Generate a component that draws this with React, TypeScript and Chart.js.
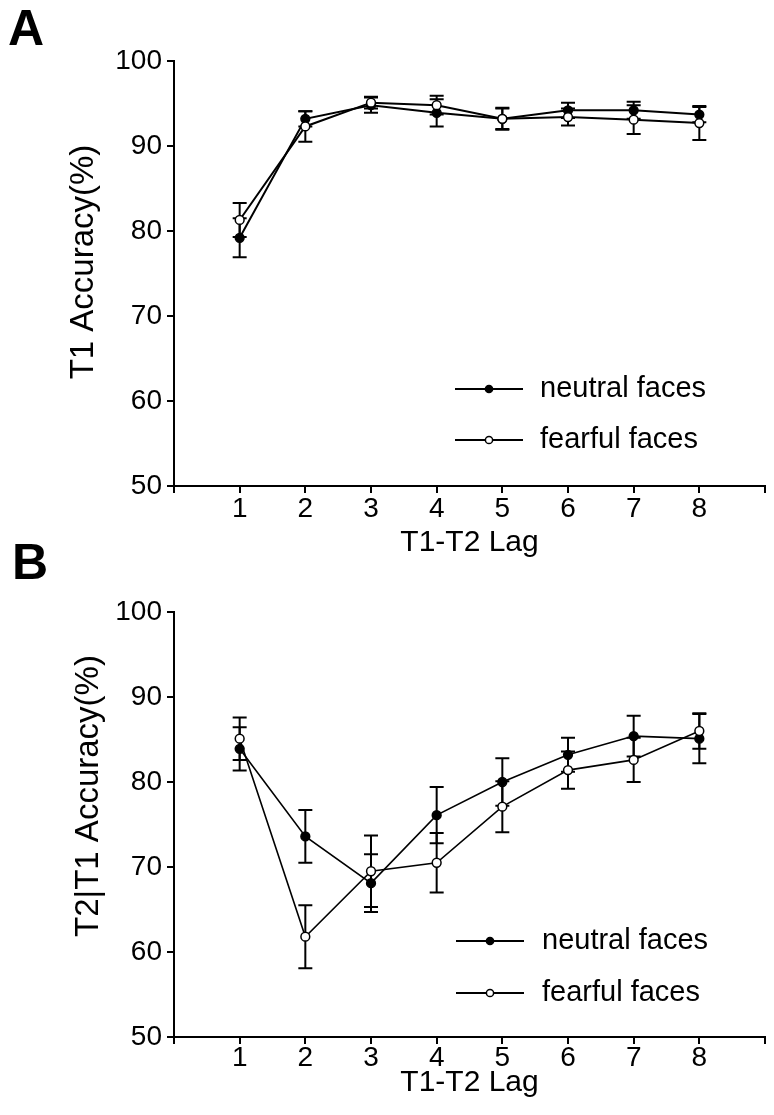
import React, { useEffect, useRef } from "react";
import { Chart, registerables } from "chart.js";

Chart.register(...registerables);

// ---------- data ----------
const lags = [1, 2, 3, 4, 5, 6, 7, 8];
const xTickValues = [0, 1, 2, 3, 4, 5, 6, 7, 8, 9];
const seriesLabels = ["neutral faces", "fearful faces"];
const xAxisTitle = "T1-T2 Lag";
const panelLetters = ["A", "B"];
const yAxisTitles = ["T1 Accuracy(%)", "T2|T1 Accuracy(%)"];

// Panel A – T1 accuracy
const t1Neutral = [79.2, 93.2, 94.8, 93.9, 93.2, 94.2, 94.2, 93.7];
const t1NeutralErr = [2.3, 0.9, 0.9, 1.6, 1.2, 0.9, 1.0, 0.9];
const t1Fearful = [81.3, 92.3, 95.1, 94.8, 93.2, 93.4, 93.1, 92.7];
const t1FearfulErr = [2.0, 1.8, 0.7, 1.1, 1.3, 1.0, 1.7, 2.0];

// Panel B – T2|T1 accuracy
const t2Neutral = [83.9, 73.6, 68.1, 76.1, 80.0, 83.2, 85.4, 85.1];
const t2NeutralErr = [2.55, 3.1, 3.4, 3.3, 2.8, 2.0, 2.4, 2.9];
const t2Fearful = [85.1, 61.8, 69.5, 70.5, 77.1, 81.4, 82.6, 86.0];
const t2FearfulErr = [2.5, 3.7, 4.2, 3.5, 3.0, 2.2, 2.6, 2.1];

const FONT = '"Liberation Sans", Arial, Helvetica, sans-serif';

type Spec = {
  letter: string;
  yTitle: string;
  neutral: number[];
  neutralErr: number[];
  fearful: number[];
  fearfulErr: number[];
  height: number;
  padTop: number;
  xScaleHeight: number;
  xTickPad: number;
  xTitlePad: number;
  yTitleX: number;
  yTitleY: number;
  letterX: number;
  letterY: number;
  legendLine: [number, number];
  legendMarkerX: number;
  legendTextX: number;
  legendRows: [number, number];
  lineWidth: number;
};

function buildConfig(spec: Spec): any {
  const gridStyle = {
    display: true,
    drawOnChartArea: false,
    drawTicks: true,
    tickLength: 7,
    tickWidth: 2,
    tickColor: "#000",
    color: "#000",
    lineWidth: 2,
  };
  const borderStyle = { display: true, color: "#000", width: 2 };
  const tickFont = { family: FONT, size: 28, lineHeight: 1 };

  const decor = {
    id: "decor",
    beforeDatasetsDraw(chart: any) {
      const { ctx } = chart;
      const xs = chart.scales.x;
      const ys = chart.scales.y;
      ctx.save();
      ctx.strokeStyle = "#000";
      ctx.lineWidth = 2;
      chart.data.datasets.forEach((ds: any) => {
        ds.data.forEach((p: any, i: number) => {
          const e = ds.errors[i];
          const px = xs.getPixelForValue(p.x);
          const top = ys.getPixelForValue(p.y + e);
          const bot = ys.getPixelForValue(p.y - e);
          const cap = 7;
          ctx.beginPath();
          ctx.moveTo(px, top);
          ctx.lineTo(px, bot);
          ctx.moveTo(px - cap, top);
          ctx.lineTo(px + cap, top);
          ctx.moveTo(px - cap, bot);
          ctx.lineTo(px + cap, bot);
          ctx.stroke();
        });
      });
      ctx.restore();
    },
    afterDraw(chart: any) {
      const { ctx } = chart;
      ctx.save();
      // legend
      const fills = ["#000", "#fff"];
      seriesLabels.forEach((label, i) => {
        const y = spec.legendRows[i];
        ctx.strokeStyle = "#000";
        ctx.lineWidth = 2;
        ctx.beginPath();
        ctx.moveTo(spec.legendLine[0], y);
        ctx.lineTo(spec.legendLine[1], y);
        ctx.stroke();
        ctx.beginPath();
        ctx.arc(spec.legendMarkerX, y, 3.6, 0, Math.PI * 2);
        ctx.fillStyle = fills[i];
        ctx.fill();
        ctx.lineWidth = 1.5;
        ctx.stroke();
        ctx.fillStyle = "#000";
        ctx.font = `29px ${FONT}`;
        ctx.textAlign = "left";
        ctx.textBaseline = "middle";
        ctx.fillText(label, spec.legendTextX, y);
      });
      // y-axis title
      ctx.save();
      ctx.translate(spec.yTitleX, spec.yTitleY);
      ctx.rotate(-Math.PI / 2);
      ctx.font = `33px ${FONT}`;
      ctx.textAlign = "center";
      ctx.textBaseline = "middle";
      ctx.fillStyle = "#000";
      ctx.fillText(spec.yTitle, 0, 0);
      ctx.restore();
      // panel letter
      ctx.font = `bold 50px ${FONT}`;
      ctx.textAlign = "left";
      ctx.textBaseline = "alphabetic";
      ctx.fillStyle = "#000";
      ctx.fillText(spec.letter, spec.letterX, spec.letterY);
      ctx.restore();
    },
  };

  return {
    type: "line",
    data: {
      datasets: [
        {
          label: seriesLabels[0],
          data: lags.map((x, i) => ({ x, y: spec.neutral[i] })),
          errors: spec.neutralErr,
          borderColor: "#000",
          borderWidth: spec.lineWidth,
          pointRadius: 4.4,
          pointBorderWidth: 1.5,
          pointBackgroundColor: "#000",
          pointBorderColor: "#000",
          tension: 0,
          fill: false,
          order: 1,
        },
        {
          label: seriesLabels[1],
          data: lags.map((x, i) => ({ x, y: spec.fearful[i] })),
          errors: spec.fearfulErr,
          borderColor: "#000",
          borderWidth: spec.lineWidth,
          pointRadius: 4.4,
          pointBorderWidth: 1.5,
          pointBackgroundColor: "#fff",
          pointBorderColor: "#000",
          tension: 0,
          fill: false,
          order: 0,
        },
      ],
    },
    options: {
      responsive: false,
      animation: false,
      devicePixelRatio: 1,
      layout: { padding: { top: spec.padTop, right: 9, bottom: 0, left: 0 } },
      plugins: {
        legend: { display: false },
        tooltip: { enabled: false },
      },
      scales: {
        x: {
          type: "linear",
          min: xTickValues[0],
          max: xTickValues[xTickValues.length - 1],
          afterBuildTicks: (s: any) => {
            s.ticks = xTickValues.map((v) => ({ value: v }));
          },
          ticks: {
            autoSkip: false,
            maxRotation: 0,
            color: "#000",
            font: tickFont,
            padding: spec.xTickPad,
            callback: (v: any) => (lags.includes(Number(v)) ? String(v) : ""),
          },
          grid: gridStyle,
          border: borderStyle,
          title: {
            display: true,
            text: xAxisTitle,
            color: "#000",
            font: { family: FONT, size: 30, lineHeight: 1.2 },
            padding: { top: 0, bottom: spec.xTitlePad },
          },
          afterFit: (s: any) => {
            s.height = spec.xScaleHeight;
          },
        },
        y: {
          type: "linear",
          min: 50,
          max: 100,
          ticks: { stepSize: 10, color: "#000", font: tickFont, padding: 5 },
          grid: gridStyle,
          border: borderStyle,
          afterFit: (s: any) => {
            s.width = 174;
          },
        },
      },
    },
    plugins: [decor],
  };
}

const specA: Spec = {
  letter: panelLetters[0],
  yTitle: yAxisTitles[0],
  neutral: t1Neutral,
  neutralErr: t1NeutralErr,
  fearful: t1Fearful,
  fearfulErr: t1FearfulErr,
  height: 565,
  padTop: 61,
  xScaleHeight: 79,
  xTickPad: 2,
  xTitlePad: 4,
  yTitleX: 84,
  yTitleY: 262,
  letterX: 8,
  letterY: 45,
  legendLine: [455, 523],
  legendMarkerX: 489,
  legendTextX: 540,
  legendRows: [389, 440],
  lineWidth: 2,
};

const specB: Spec = {
  letter: panelLetters[1],
  yTitle: yAxisTitles[1],
  neutral: t2Neutral,
  neutralErr: t2NeutralErr,
  fearful: t2Fearful,
  fearfulErr: t2FearfulErr,
  height: 585,
  padTop: 82,
  xScaleHeight: 78,
  xTickPad: 0,
  xTitlePad: 14,
  yTitleX: 89,
  yTitleY: 266,
  letterX: 12,
  letterY: 49,
  legendLine: [456, 524],
  legendMarkerX: 490,
  legendTextX: 542,
  legendRows: [411, 463],
  lineWidth: 1.6,
};

function Panel({ spec, top }: { spec: Spec; top: number }) {
  const ref = useRef<HTMLCanvasElement | null>(null);
  useEffect(() => {
    if (!ref.current) return;
    const chart = new Chart(ref.current, buildConfig(spec));
    return () => chart.destroy();
  }, [spec]);
  return (
    <canvas
      ref={ref}
      width={774}
      height={spec.height}
      style={{ position: "absolute", left: 0, top, width: 774, height: spec.height, display: "block" }}
    />
  );
}

export default function App() {
  return (
    <div style={{ position: "absolute", left: 0, top: 0, width: 774, height: 1115, background: "#fff" }}>
      <Panel spec={specA} top={0} />
      <Panel spec={specB} top={530} />
    </div>
  );
}
